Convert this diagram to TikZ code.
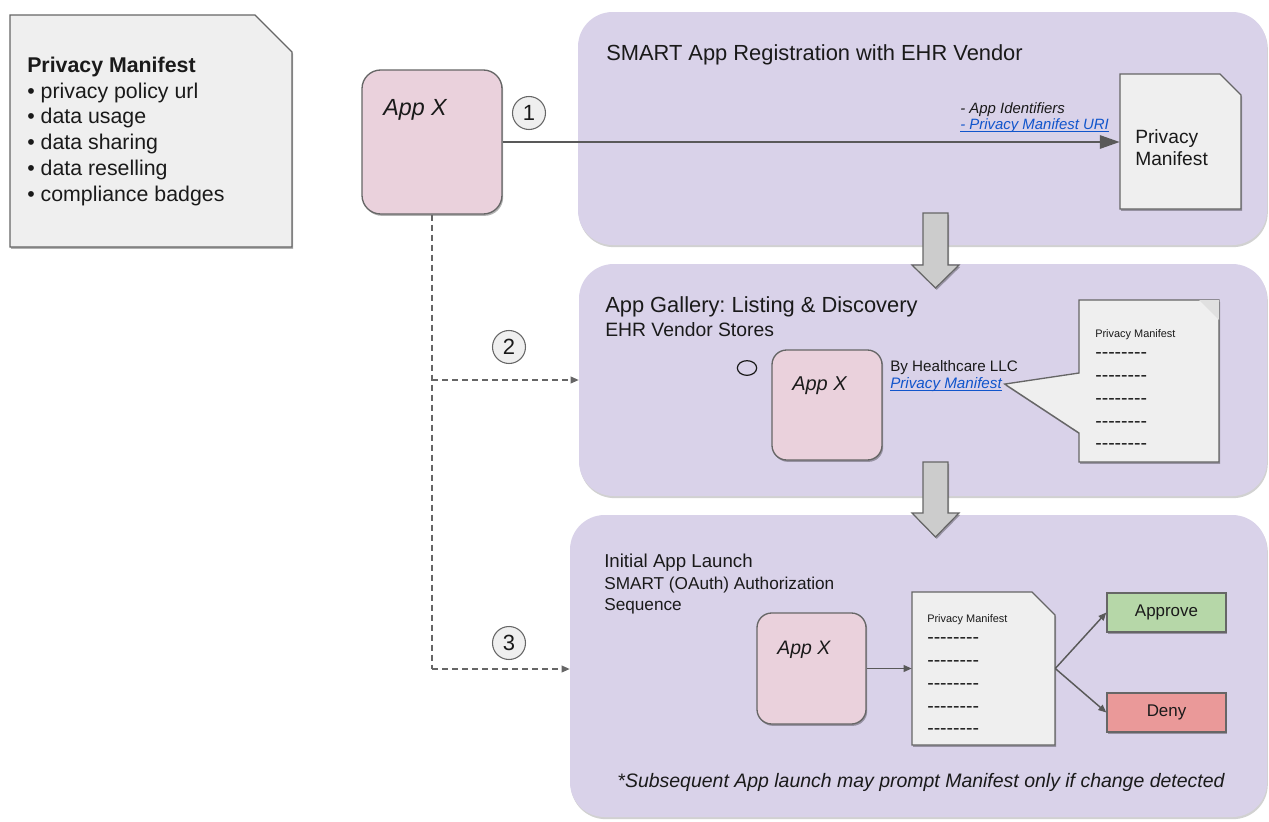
\documentclass[tikz,border=0pt]{standalone}
\usepackage{fontspec}
\setmainfont{Liberation Sans}
\usetikzlibrary{shadows,fit,arrows.meta,shapes.geometric}
\definecolor{panel}{HTML}{D9D2E9}
\definecolor{appfill}{HTML}{EAD1DC}
\definecolor{docfill}{HTML}{EFEFEF}
\definecolor{edge}{HTML}{666666}
\definecolor{dark}{HTML}{595959}
\definecolor{ink}{HTML}{1A1A1A}
\definecolor{linkblue}{HTML}{1155CC}
\definecolor{approvefill}{HTML}{B6D7A8}
\definecolor{denyfill}{HTML}{EA9999}
\definecolor{arrowfill}{HTML}{CCCCCC}
\newcommand\dashrow{\mbox{-}\mbox{-}\mbox{-}\mbox{-}\mbox{-}\mbox{-}\mbox{-}\mbox{-}}
\frenchspacing
\begin{document}
\begin{tikzpicture}[x=0.75pt,y=-0.75pt,
  txt/.style={inner sep=0, text=ink},
  softshadow/.style={drop shadow={shadow xshift=0.9pt, shadow yshift=-1.4pt, opacity=0.3, fill=black}},
  panelbox/.style={fill=panel, draw=none, rounded corners=26pt, inner sep=0,
    drop shadow={shadow xshift=0.6pt, shadow yshift=-1.6pt, opacity=0.18, fill=black}},
  appbox/.style={fill=appfill, draw=edge, line width=1pt, rounded corners=14pt, inner sep=0, softshadow},
  docshape/.style={fill=docfill, draw=edge, line width=1pt, softshadow},
  holder/.style={inner sep=0, draw=none, fill=none},
  numcirc/.style={circle, draw=edge, fill=docfill, line width=0.8pt, minimum size=24.75pt, inner sep=0,
    text=ink, font=\fontsize{16.5}{16.5}\selectfont},
  regline/.style={draw=dark, line width=1.7pt, -{Triangle[length=15pt,width=10pt]}},
  thinarrow/.style={draw=dark, line width=1.1pt, -{Triangle[length=6pt,width=5pt]}},
  dashline/.style={draw=edge, line width=1.1pt, dash pattern=on 4.5pt off 3pt},
  dasharrow/.style={dashline, -{Triangle[length=6pt,width=5pt]}},
  bigarrow/.style={fill=arrowfill, draw=edge, line width=0.9pt, softshadow},
  choice/.style={draw=edge, line width=1pt, minimum width=89.25pt, minimum height=29.25pt, inner sep=0,
    text=ink, font=\fontsize{12.7}{14}\selectfont, softshadow},
  dashtxt/.style={txt, anchor=base west, font=\fontsize{14.6}{16}\selectfont},
  smalltxt/.style={txt, anchor=base west, font=\fontsize{8.2}{10}\selectfont},
  linkline/.style={draw=linkblue, line width=0.6pt},
]
\useasboundingbox (0,0) rectangle (1269,821);

% ---------- legend document ----------
\draw[docshape] (10,15) -- (255,15) -- (292,52) -- (292,247) -- (10,247) -- cycle;
\node[txt, anchor=north west, align=left, font=\fontsize{16}{19.4}\selectfont] (legend) at (27,56.5)
  {\textbf{Privacy Manifest}\\• privacy policy url\\• data usage\\• data sharing\\• data reselling\\• compliance badges};

% ---------- panels ----------
\node[panelbox, fit={(578,12) (1267,245)}] (reg) {};
\node[panelbox, fit={(579,264) (1267,496)}] (gal) {};
\node[panelbox, fit={(570,515) (1267,817)}] (launch) {};

\node[txt, anchor=base west, font=\fontsize{16.4}{18}\selectfont] (regtitle) at (606,60) {SMART App Registration with EHR Vendor};
\node[txt, anchor=base west, font=\fontsize{16.4}{18}\selectfont] (galtitle) at (605,312) {App Gallery: Listing \& Discovery};
\node[txt, anchor=base west, font=\fontsize{14.5}{16}\selectfont] (galsub) at (605,336) {EHR Vendor Stores};
\node[txt, anchor=base west, font=\fontsize{14}{16}\selectfont] (launchtitle) at (604,567) {Initial App Launch};
\node[txt, anchor=base west, font=\fontsize{12.9}{15}\selectfont] (launchsub) at (604,589) {SMART (OAuth) Authorization};
\node[txt, anchor=base west, font=\fontsize{12.9}{15}\selectfont] (launchsub2) at (604,610) {Sequence};

% ---------- App X (main) ----------
\node[appbox, fit={(362,70) (502,214)}] (app1) {};
\node[txt, anchor=base west, font=\fontsize{17.5}{19}\selectfont\itshape] (app1lbl) at (383,115) {App X};

\node[numcirc] (n1) at (529,113) {1};
\node[numcirc] (n2) at (509,347) {2};
\node[numcirc] (n3) at (509,643) {3};

% ---------- registration ----------
\draw[docshape] (1120,74) -- (1220,74) -- (1241,95) -- (1241,209) -- (1120,209) -- cycle;
\node[holder, fit={(1120,74) (1241,209)}] (pm1) {};
\node[txt, anchor=base west, font=\fontsize{14.4}{16.5}\selectfont] (pm1a) at (1135,143) {Privacy};
\node[txt, anchor=base west, font=\fontsize{14.4}{16.5}\selectfont] (pm1b) at (1135,165) {Manifest};

\draw[regline] (app1.east) -- (pm1.west |- app1.east);
\node[txt, anchor=base west, font=\fontsize{11.2}{13}\selectfont\itshape] (ids) at (960,113) {- App Identifiers};
\node[txt, anchor=base west, text=linkblue, font=\fontsize{11.2}{13}\selectfont\itshape] (uri) at (960,129) {- Privacy Manifest URI};
\draw[linkline] ([yshift=-1.6pt]uri.base west) -- ([yshift=-1.6pt]uri.base east);

% ---------- dashed flows ----------
\coordinate (j2) at (432,380);
\coordinate (j3) at (432,669);
\draw[dashline] (app1.south) -- (j3);
\draw[dasharrow] (j2) -- (gal.west |- j2);
\draw[dasharrow] (j3) -- (launch.west |- j3);

% ---------- gallery ----------
\node[ellipse, draw=ink, line width=0.9pt, minimum width=14.5pt, minimum height=11pt, inner sep=0] (dot) at (747,368) {};
\node[appbox, rounded corners=11pt, fit={(772,350) (882,460)}] (app2) {};
\node[txt, anchor=base west, font=\fontsize{15}{17}\selectfont\itshape] (app2lbl) at (792,390) {App X};
\node[txt, anchor=base west, font=\fontsize{11.4}{13}\selectfont] (vendor) at (890,371) {By Healthcare LLC};
\node[txt, anchor=base west, text=linkblue, font=\fontsize{11.4}{13}\selectfont\itshape] (link) at (890,388) {Privacy Manifest};
\draw[linkline] ([yshift=-1.6pt]link.base west) -- ([yshift=-1.6pt]link.base east);

\draw[docshape] (1079,300) -- (1219,300) -- (1219,462) -- (1079,462) -- (1079,433) -- ([xshift=2pt]link.east) -- (1079,373) -- cycle;
\fill[black!12] (1199,300) -- (1219,300) -- (1219,320) -- cycle;
\node[holder, fit={(1079,300) (1219,462)}] (pm2) {};
\node[smalltxt] (pm2t) at (1095,337) {Privacy Manifest};
\node[dashtxt] (pm2d1) at (1095,358) {\dashrow};
\node[dashtxt] (pm2d2) at (1095,381) {\dashrow};
\node[dashtxt] (pm2d3) at (1095,404) {\dashrow};
\node[dashtxt] (pm2d4) at (1095,427) {\dashrow};
\node[dashtxt] (pm2d5) at (1095,449) {\dashrow};

% ---------- launch ----------
\node[appbox, rounded corners=11pt, fit={(757,613) (866,724)}] (app3) {};
\node[txt, anchor=base west, font=\fontsize{14.6}{17}\selectfont\itshape] (app3lbl) at (777,654) {App X};

\draw[docshape] (912,592) -- (1032,592) -- (1055,615) -- (1055,745) -- (912,745) -- cycle;
\node[holder, fit={(912,592) (1055,745)}] (pm3) {};
\node[smalltxt] (pm3t) at (927,622) {Privacy Manifest};
\node[dashtxt] (pm3d1) at (927,643) {\dashrow};
\node[dashtxt] (pm3d2) at (927,666) {\dashrow};
\node[dashtxt] (pm3d3) at (927,689) {\dashrow};
\node[dashtxt] (pm3d4) at (927,712) {\dashrow};
\node[dashtxt] (pm3d5) at (927,734) {\dashrow};

\node[choice, fill=approvefill] (approve) at (1166.5,612.5) {Approve};
\node[choice, fill=denyfill] (deny) at (1166.5,712.5) {Deny};

\draw[thinarrow] (app3.east) -- (pm3.west |- app3.east);
\draw[thinarrow] (pm3.east) -- (approve.west);
\draw[thinarrow] (pm3.east) -- (deny.west);

\node[txt, font=\fontsize{14.6}{17}\selectfont\itshape] (note) at (921,782) {*Subsequent App launch may prompt Manifest only if change detected};

% ---------- big arrows between panels ----------
\draw[bigarrow] (923,213) -- (948,213) -- (948,265) -- (959,265) -- (935.5,288) -- (912,265) -- (923,265) -- cycle;
\draw[bigarrow] (923,462) -- (948,462) -- (948,513) -- (959,513) -- (935.5,537) -- (912,513) -- (923,513) -- cycle;
\end{tikzpicture}
\end{document}
